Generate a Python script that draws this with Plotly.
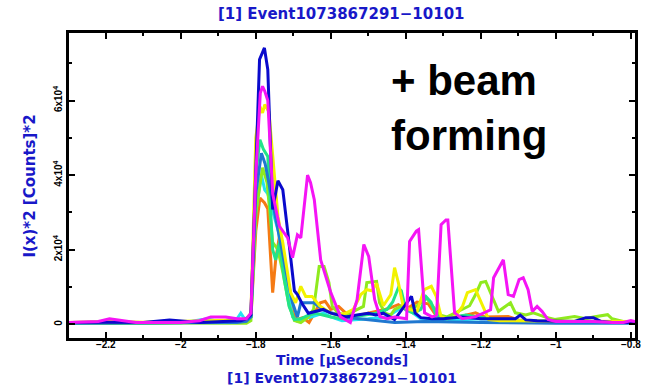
import plotly.graph_objects as go

# Time axis in microseconds, intensity in counts^2
BLUE_T = [-2.298, -2.20, -2.10, -2.03, -1.95, -1.88, -1.84, -1.825, -1.813, -1.790, -1.777, -1.768, -1.755, -1.741, -1.728, -1.715, -1.697, -1.689, -1.675, -1.660, -1.640, -1.620, -1.600, -1.580, -1.560, -1.530, -1.500, -1.480, -1.460, -1.430, -1.400, -1.385, -1.375, -1.360, -1.330, -1.300, -1.250, -1.200, -1.150, -1.108, -1.095, -1.080, -1.050, -1.000, -0.950, -0.920, -0.900, -0.880, -0.850, -0.820, -0.789]
BLUE_V = [500, 600, 500, 1200, 500, 800, 1000, 1500, 2500, 71000, 74100, 68300, 30800, 38500, 36100, 25000, 9000, 8000, 5300, 3000, 3500, 4000, 3000, 2500, 2000, 2500, 3000, 2500, 3000, 1300, 5300, 7500, 3000, 1800, 1500, 1500, 2000, 1500, 1500, 1500, 2500, 1200, 1000, 800, 800, 1800, 1800, 800, 500, 500, 500]

MAGENTA_T = [-2.298, -2.22, -2.19, -2.17, -2.12, -2.00, -1.95, -1.92, -1.88, -1.85, -1.825, -1.813, -1.800, -1.788, -1.782, -1.776, -1.768, -1.755, -1.737, -1.715, -1.702, -1.689, -1.680, -1.662, -1.654, -1.644, -1.627, -1.600, -1.574, -1.548, -1.530, -1.512, -1.499, -1.483, -1.469, -1.450, -1.430, -1.398, -1.390, -1.372, -1.366, -1.354, -1.350, -1.330, -1.318, -1.306, -1.293, -1.288, -1.270, -1.250, -1.215, -1.174, -1.166, -1.140, -1.127, -1.113, -1.098, -1.087, -1.074, -1.063, -1.050, -1.037, -1.021, -1.000, -0.950, -0.900, -0.850, -0.820, -0.800, -0.789]
MAGENTA_V = [500, 800, 1500, 1200, 500, 500, 1000, 2000, 2000, 1500, 1500, 3000, 40000, 62000, 63800, 62500, 60000, 35000, 26300, 23200, 17900, 24000, 23200, 40000, 38000, 33400, 17300, 8500, 2000, 500, 6600, 21400, 18200, 6600, 2100, 1500, 2000, 1500, 22200, 25000, 25400, 9300, 3100, 2000, 2500, 26700, 28000, 28000, 3100, 1500, 2000, 3900, 12500, 17300, 8000, 7500, 12000, 12500, 9300, 3500, 4800, 3500, 1300, 800, 800, 800, 500, 500, 1000, 800]

YELLOW_T = [-2.298, -2.20, -2.10, -2.00, -1.90, -1.85, -1.825, -1.813, -1.800, -1.789, -1.782, -1.776, -1.765, -1.741, -1.728, -1.707, -1.694, -1.680, -1.667, -1.650, -1.630, -1.600, -1.580, -1.560, -1.540, -1.520, -1.504, -1.490, -1.478, -1.460, -1.440, -1.430, -1.420, -1.407, -1.390, -1.370, -1.351, -1.332, -1.319, -1.306, -1.290, -1.270, -1.249, -1.236, -1.214, -1.200, -1.179, -1.150, -1.100, -1.000, -0.900, -0.789]
YELLOW_V = [500, 800, 600, 800, 1000, 1200, 1500, 3000, 50000, 58400, 56700, 58900, 57000, 29000, 21900, 8500, 5800, 10200, 7500, 7500, 5000, 3000, 2500, 3000, 4000, 8000, 9300, 9000, 11000, 5000, 8000, 15200, 11200, 4800, 4000, 3500, 9300, 10200, 7500, 2100, 1500, 2000, 4800, 8500, 9300, 6000, 1300, 1000, 1000, 800, 800, 800]

GREEN_T = [-2.298, -2.20, -2.10, -2.00, -1.90, -1.85, -1.825, -1.813, -1.800, -1.789, -1.780, -1.768, -1.755, -1.747, -1.737, -1.724, -1.711, -1.697, -1.680, -1.660, -1.640, -1.620, -1.600, -1.570, -1.540, -1.510, -1.480, -1.450, -1.435, -1.420, -1.412, -1.400, -1.380, -1.360, -1.346, -1.333, -1.319, -1.300, -1.270, -1.240, -1.210, -1.180, -1.150, -1.120, -1.090, -1.050, -1.000, -0.900, -0.789]
GREEN_V = [300, 500, 400, 500, 600, 800, 1000, 2000, 40000, 49500, 47000, 45000, 20000, 17300, 21900, 12000, 4800, 1300, 1500, 2500, 3000, 2500, 2000, 1500, 2000, 2500, 3000, 4000, 6000, 9800, 9000, 3900, 3000, 4000, 7400, 6000, 2500, 1500, 2000, 2500, 2000, 1500, 1200, 1000, 800, 800, 600, 500, 500]

LIME_T = [-2.298, -2.20, -2.10, -2.00, -1.90, -1.85, -1.825, -1.813, -1.800, -1.782, -1.770, -1.755, -1.741, -1.728, -1.711, -1.697, -1.680, -1.660, -1.646, -1.631, -1.618, -1.605, -1.596, -1.580, -1.560, -1.513, -1.504, -1.478, -1.470, -1.455, -1.440, -1.430, -1.410, -1.390, -1.370, -1.346, -1.330, -1.310, -1.290, -1.270, -1.250, -1.230, -1.214, -1.200, -1.187, -1.170, -1.153, -1.135, -1.121, -1.108, -1.080, -1.060, -1.030, -1.003, -0.950, -0.920, -0.900, -0.862, -0.850, -0.810, -0.789]
LIME_V = [300, 400, 300, 400, 300, 300, 300, 1000, 30000, 42000, 38000, 22000, 20000, 14000, 5000, 1000, 500, 2000, 4000, 15500, 15500, 11200, 4800, 3000, 2500, 4800, 11200, 11500, 5800, 3000, 2500, 4000, 5000, 4000, 5000, 7200, 5000, 2500, 2000, 3000, 4000, 5000, 8000, 11200, 11500, 7500, 3500, 4800, 5800, 3100, 2500, 3100, 2000, 1300, 2100, 1500, 2000, 2600, 1500, 500, 500]

ORANGE_T = [-2.298, -2.20, -2.10, -2.00, -1.90, -1.85, -1.825, -1.813, -1.800, -1.789, -1.777, -1.768, -1.755, -1.747, -1.737, -1.720, -1.700, -1.689, -1.675, -1.658, -1.628, -1.615, -1.600, -1.579, -1.560, -1.539, -1.520, -1.480, -1.460, -1.440, -1.420, -1.400, -1.370, -1.340, -1.320, -1.280, -1.214, -1.190, -1.127, -1.100, -1.000, -0.900, -0.789]
ORANGE_V = [300, 500, 400, 500, 600, 800, 1000, 2000, 25000, 33900, 32600, 31000, 8500, 17300, 23600, 14000, 3000, 1300, 1800, 500, 5800, 6200, 4000, 4800, 3000, 2100, 2500, 3500, 3900, 4500, 5300, 4000, 6000, 5500, 2500, 1500, 3100, 2000, 2100, 1200, 500, 500, 500]

CYAN_T = [-2.298, -2.20, -2.10, -2.00, -1.93, -1.90, -1.87, -1.85, -1.840, -1.830, -1.813, -1.800, -1.785, -1.776, -1.768, -1.740, -1.715, -1.702, -1.689, -1.670, -1.650, -1.620, -1.600, -1.570, -1.500, -1.450, -1.420, -1.400, -1.380, -1.360, -1.300, -1.200, -1.100, -1.000, -0.900, -0.789]
CYAN_V = [300, 400, 300, 400, 1500, 800, 1200, 1500, 3000, 1500, 2000, 30000, 40000, 36000, 35000, 25000, 10000, 2000, 800, 1500, 2000, 3000, 2000, 1000, 1500, 2000, 4000, 4500, 3000, 1500, 1000, 1500, 1000, 800, 800, 800]

STEEL_T = [-2.298, -2.20, -2.10, -2.00, -1.90, -1.85, -1.825, -1.813, -1.800, -1.785, -1.775, -1.760, -1.740, -1.715, -1.702, -1.689, -1.680, -1.645, -1.620, -1.600, -1.550, -1.500, -1.430, -1.350, -1.200, -1.000, -0.789]
STEEL_V = [300, 300, 300, 300, 400, 500, 800, 2000, 35000, 45900, 43000, 35000, 25000, 12000, 5800, 2000, 5800, 5800, 3900, 3100, 1800, 1200, 500, 800, 500, 300, 300]

X_TICKS = [-2.2, -2.0, -1.8, -1.6, -1.4, -1.2, -1.0, -0.8]
X_TICK_TEXT = ["\u22122.2", "\u22122", "\u22121.8", "\u22121.6", "\u22121.4", "\u22121.2", "\u22121", "\u22120.8"]
Y_TICKS = [0, 20000, 40000, 60000]
Y_TICK_TEXT = ["0", "2x10<sup>4</sup>", "4x10<sup>4</sup>", "6x10<sup>4</sup>"]

EVENT_LABEL = "[1] Event1073867291\u221210101"

series = [
    (ORANGE_T, ORANGE_V, "#F57A14"),
    (CYAN_T, CYAN_V, "#22E4F0"),
    (LIME_T, LIME_V, "#8FEA1E"),
    (GREEN_T, GREEN_V, "#22E48A"),
    (STEEL_T, STEEL_V, "#2078D0"),
    (YELLOW_T, YELLOW_V, "#F2F200"),
    (BLUE_T, BLUE_V, "#0A0ACC"),
    (MAGENTA_T, MAGENTA_V, "#F514F5"),
]

fig = go.Figure()
for t, v, c in series:
    fig.add_trace(go.Scatter(x=t, y=v, mode="lines",
                             line=dict(color=c, width=3),
                             showlegend=False, hoverinfo="skip"))

TITLE_BLUE = "#1818C8"
title_font = dict(family="DejaVu Sans", size=15, color=TITLE_BLUE)
bottom_font = dict(family="DejaVu Sans", size=14, color=TITLE_BLUE)
big_font = dict(family="Liberation Sans", size=42, color="black")

annotations = [
    dict(text="<b>" + EVENT_LABEL + "</b>", x=0.481, y=1.062, font=title_font),
    dict(text="<b>Time [\u03bcSeconds]</b><br><b>" + EVENT_LABEL + "</b>",
         x=0.482, y=-0.101, font=bottom_font, align="center"),
    dict(text="<b>I(x)*2 [Counts]*2</b>", x=-0.068, y=0.498, textangle=-90, font=title_font),
    dict(text="<b>+ beam</b><br><b>forming</b>", x=0.565, y=0.755, xanchor="left",
         align="left", font=big_font),
]
for a in annotations:
    a.setdefault("xanchor", "center")
    a.update(xref="paper", yref="paper", yanchor="middle", showarrow=False)

axis_common = dict(
    showline=True, linewidth=2.5, linecolor="black", mirror="allticks",
    ticks="inside", ticklen=6, tickwidth=2, tickcolor="black",
    showgrid=False, zeroline=False,
)

fig.update_layout(
    width=650, height=386,
    margin=dict(l=69, r=9, t=33, b=48),
    paper_bgcolor="white", plot_bgcolor="white",
    annotations=annotations,
    xaxis=dict(range=[-2.298, -0.789], tickmode="array", tickvals=X_TICKS, ticktext=X_TICK_TEXT,
               tickfont=dict(family="Liberation Sans", size=10, color="black", weight="bold"),
               ticklabelstandoff=-5,
               minor=dict(tickmode="linear", tick0=-2.3, dtick=0.1, ticks="inside", ticklen=3,
                          tickwidth=2, tickcolor="black"),
               **axis_common),
    yaxis=dict(range=[-3650, 78100], tickmode="array", tickvals=Y_TICKS, ticktext=Y_TICK_TEXT,
               tickangle=-90,
               tickfont=dict(family="Liberation Sans", size=10, color="black", weight="bold"),
               minor=dict(tickmode="linear", tick0=0, dtick=10000, ticks="inside", ticklen=3,
                          tickwidth=2, tickcolor="black"),
               **axis_common),
)

fig.write_html("out.html")
